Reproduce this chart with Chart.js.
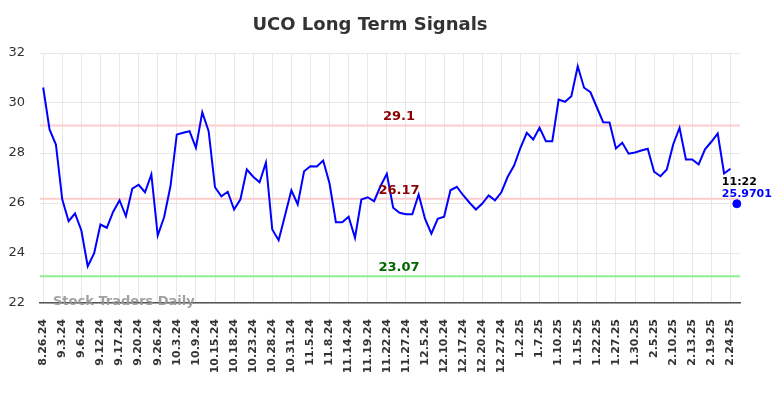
<!DOCTYPE html>
<html>
<head>
<meta charset="utf-8">
<script src="https://cdn.jsdelivr.net/npm/chart.js@4"></script>
<style>
    html, body { margin: 0; padding: 0; background: #fff; }
    #wrap { width: 784px; height: 398px; }
</style>
</head>
<body>
<div id="wrap"><canvas id="uco-chart" width="784" height="398"></canvas></div>
<script>
// tick labels, one for every third point
const tickLabels = [
    "8.26.24", "9.3.24", "9.6.24", "9.12.24", "9.17.24", "9.20.24", "9.26.24", "10.3.24",
    "10.9.24", "10.15.24", "10.18.24", "10.23.24", "10.28.24", "10.31.24", "11.5.24", "11.8.24",
    "11.14.24", "11.19.24", "11.22.24", "11.27.24", "12.5.24", "12.10.24", "12.17.24", "12.20.24",
    "12.27.24", "1.2.25", "1.7.25", "1.10.25", "1.15.25", "1.22.25", "1.27.25", "1.30.25",
    "2.5.25", "2.10.25", "2.13.25", "2.19.25", "2.24.25",
];

// closing prices
const prices = [
    30.62, 28.94, 28.34, 26.14, 25.27, 25.58, 24.90, 23.47, 23.98, 25.14,
    25.01, 25.65, 26.11, 25.47, 26.57, 26.73, 26.43, 27.14, 24.70, 25.43,
    26.67, 28.74, 28.81, 28.87, 28.21, 29.63, 28.87, 26.63, 26.27, 26.45,
    25.74, 26.15, 27.34, 27.05, 26.83, 27.61, 24.94, 24.51, 25.50, 26.51,
    25.94, 27.27, 27.47, 27.46, 27.70, 26.78, 25.23, 25.23, 25.45, 24.61,
    26.14, 26.23, 26.07, 26.67, 27.17, 25.81, 25.61, 25.55, 25.55, 26.34,
    25.37, 24.77, 25.37, 25.45, 26.51, 26.65, 26.31, 26.01, 25.74, 25.98,
    26.30, 26.11, 26.43, 27.05, 27.50, 28.21, 28.81, 28.54, 29.01, 28.47,
    28.47, 30.14, 30.05, 30.27, 31.47, 30.61, 30.43, 29.83, 29.23, 29.22,
    28.18, 28.41, 27.97, 28.02, 28.10, 28.17, 27.25, 27.07, 27.34, 28.34,
    29.01, 27.74, 27.74, 27.54, 28.15, 28.45, 28.78, 27.18, 27.37,
];

const lastPrice = 25.9701;
const lastTime = "11:22";

const resistance = 29.1;
const middle = 26.17;
const support = 23.07;

const yTicks = [22, 24, 26, 28, 30, 32];

// categories: every third one gets a label
const categories = [];
for (let i = 0; i <= prices.length; i++) {
    categories.push(i % 3 === 0 ? tickLabels[i / 3] || "" : "");
}

const mainLine = prices.concat([null]);
const lastDot = prices.map(() => null).concat([lastPrice]);

const FONT = "'DejaVu Sans', sans-serif";

// level lines, labels, watermark
const overlay = {
    id: "overlay",
    beforeDatasetsDraw(chart) {
        const { ctx, chartArea, scales } = chart;
        const lines = [
            { v: resistance, color: "#ffcccc" },
            { v: middle, color: "#ffcccc" },
            { v: support, color: "#90ee90" },
        ];
        ctx.save();
        ctx.lineWidth = 2;
        lines.forEach((l) => {
            const y = scales.y.getPixelForValue(l.v);
            ctx.strokeStyle = l.color;
            ctx.beginPath();
            ctx.moveTo(chartArea.left, y);
            ctx.lineTo(chartArea.right, y);
            ctx.stroke();
        });
        ctx.restore();
    },
    afterDatasetsDraw(chart) {
        const { ctx, chartArea, scales } = chart;
        const cx = 399;
        ctx.save();
        ctx.font = "bold 13px " + FONT;
        ctx.textAlign = "center";
        ctx.textBaseline = "bottom";
        ctx.fillStyle = "#8b0000";
        ctx.fillText(String(resistance), cx, scales.y.getPixelForValue(resistance) - 2);
        ctx.fillText(String(middle), cx, scales.y.getPixelForValue(middle) - 2);
        ctx.fillStyle = "#006400";
        ctx.fillText(String(support), cx, scales.y.getPixelForValue(support) - 2);

        // watermark
        ctx.font = "bold 13px " + FONT;
        ctx.textAlign = "left";
        ctx.textBaseline = "middle";
        ctx.fillStyle = "rgba(150,150,150,0.9)";
        ctx.fillText("Stock Traders Daily", 53, chartArea.bottom - 1);

        // last price label
        const px = scales.x.getPixelForValue(prices.length);
        const py = scales.y.getPixelForValue(lastPrice);
        ctx.font = "bold 11px " + FONT;
        ctx.fillStyle = "#000";
        ctx.fillText(lastTime, px - 15, py - 22);
        ctx.fillStyle = "#0000ff";
        ctx.fillText(lastPrice.toFixed(4), px - 15, py - 10);
        ctx.restore();
    },
};

const ucoChart = new Chart(document.getElementById("uco-chart").getContext("2d"), {
    type: "line",
    data: {
        labels: categories,
        datasets: [
            {
                data: mainLine,
                borderColor: "#0000ff",
                borderWidth: 2,
                pointRadius: 0,
                tension: 0,
            },
            {
                data: lastDot,
                borderColor: "#0000ff",
                backgroundColor: "#0000ff",
                pointRadius: 4,
                showLine: false,
            },
        ],
    },
    options: {
        responsive: false,
        animation: false,
        layout: { padding: { left: 0, right: 44, top: 0, bottom: 0 } },
        plugins: {
            legend: { display: false },
            tooltip: { enabled: false },
            title: {
                display: true,
                text: "UCO Long Term Signals",
                color: "#333",
                font: { family: FONT, size: 18, weight: "bold" },
                padding: { top: 15, bottom: 16.4 },
            },
        },
        scales: {
            x: {
                offset: true,
                afterFit: (scale) => { scale.height = 95; },
                grid: {
                    offset: false,
                    color: (c) => (c.index % 3 === 0 ? "#e8e8e8" : "rgba(0,0,0,0)"),
                    drawTicks: false,
                },
                border: { color: "#555", width: 1.5 },
                ticks: {
                    autoSkip: false,
                    maxRotation: 90,
                    minRotation: 90,
                    padding: 16,
                    color: "#333",
                    font: { family: FONT, size: 11, weight: "bold" },
                },
            },
            y: {
                min: 22,
                max: 32,
                afterFit: (scale) => { scale.width = 40; },
                afterBuildTicks: (scale) => { scale.ticks = yTicks.map((v) => ({ value: v })); },
                grid: { color: "#e8e8e8", drawTicks: false },
                border: { display: false },
                ticks: {
                    padding: 15,
                    color: "#333",
                    font: { family: FONT, size: 13 },
                },
            },
        },
    },
    plugins: [overlay],
});
</script>
</body>
</html>
